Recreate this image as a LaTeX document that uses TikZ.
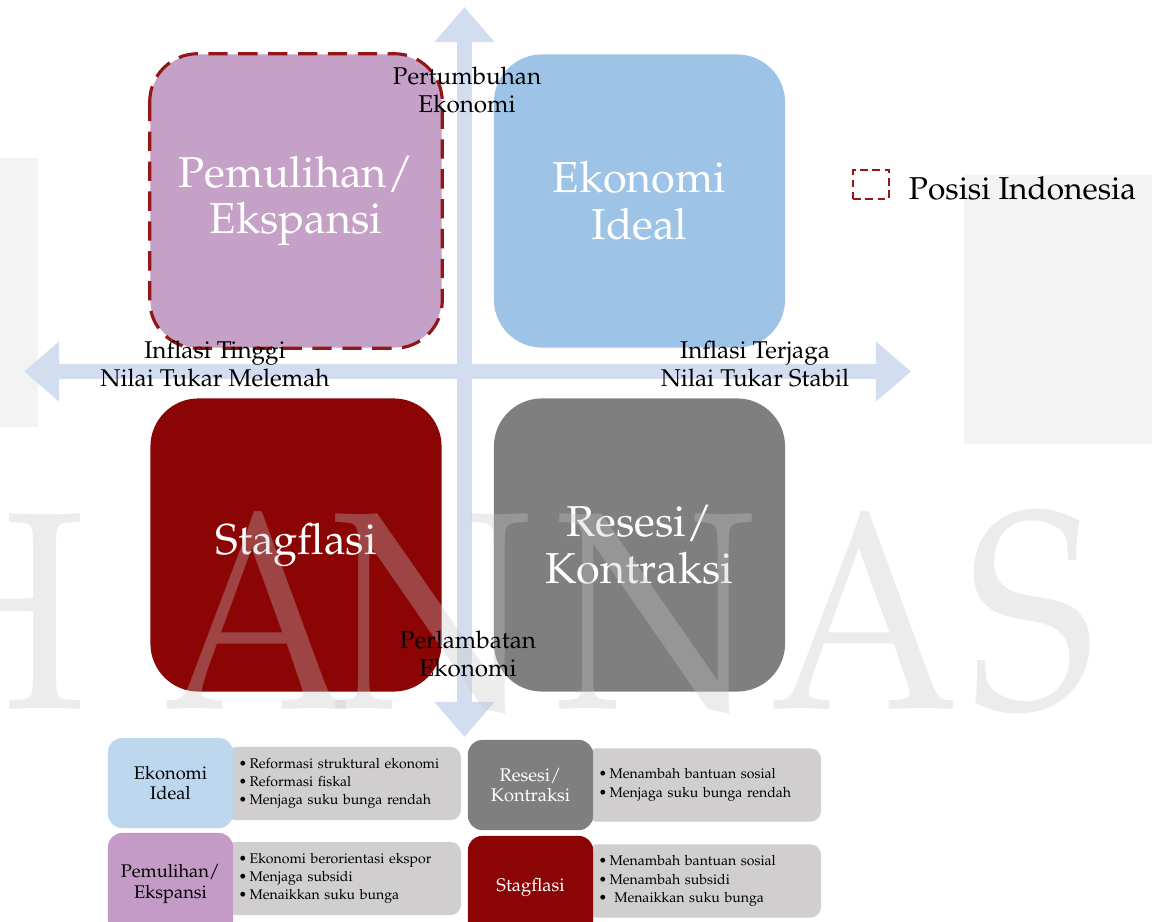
\documentclass[tikz,border=0pt]{standalone}
\usepackage[T1]{fontenc}
\usepackage{mathpazo}
\usetikzlibrary{arrows.meta,positioning}

\definecolor{axisblue}{RGB}{210,222,239}
\definecolor{pemcolor}{RGB}{197,160,199}
\definecolor{idealcolor}{RGB}{157,195,230}
\definecolor{stagcolor}{RGB}{139,5,5}
\definecolor{resesicolor}{RGB}{127,127,127}
\definecolor{dashred}{RGB}{150,22,22}
\definecolor{lightideal}{RGB}{189,215,238}
\definecolor{lightpem}{RGB}{195,155,198}
\definecolor{panelgray}{RGB}{208,206,206}
\definecolor{bggray}{RGB}{243,243,243}
\definecolor{wmgray}{RGB}{198,198,198}

\tikzset{
  axis/.style={draw=axisblue, line width=4.2pt,
    {Triangle[width=16.5pt,length=10pt]}-{Triangle[width=16.5pt,length=10pt]}},
  bigbox/.style={rounded corners=4.8mm, minimum width=2.91cm, minimum height=2.93cm,
    text=white, align=center, inner sep=0pt, font=\fontsize{12.3}{13.3}\selectfont},
  axislabel/.style={align=center, inner sep=0pt, font=\fontsize{6.9}{8.2}\selectfont},
  smallbox/.style={rounded corners=1.4mm, minimum width=1.25cm, align=center,
    inner sep=0pt, font=\fontsize{5.2}{5.8}\selectfont},
  panel/.style={fill=panelgray, rounded corners=1mm, anchor=west, text width=2.09cm,
    minimum height=0.73cm, inner xsep=1.3mm, inner ysep=0pt, align=left,
    font=\fontsize{4.0}{5.2}\selectfont},
  wmletter/.style={text=wmgray, text opacity=0.33, anchor=base, inner sep=0pt,
    font=\fontsize{80}{80}\selectfont},
  legendbox/.style={draw=dashred, line width=0.7pt, dash pattern=on 2.2pt off 1.3pt,
    minimum width=0.36cm, minimum height=0.29cm, inner sep=0pt}
}
\newcommand{\wm}[1]{\scalebox{0.86}[1]{#1}}

\begin{document}
\begin{tikzpicture}[x=0.01cm, y=-0.01cm]
    \useasboundingbox (0,0) rectangle (1152,921);
    \clip (0,0) rectangle (1152,921);

    % background
    \fill[bggray] (0,158) rectangle (38,427);
    \fill[bggray] (964,175) rectangle (1152,444);

    % axes
    \coordinate (axtop) at (464.5,7);
    \coordinate (axbottom) at (464.5,737);
    \coordinate (axleft) at (24,371.5);
    \coordinate (axright) at (911,371.5);
    \draw[axis] (axbottom) -- (axtop);
    \draw[axis] (axleft) -- (axright);

    % quadrants
    \node[bigbox, fill=pemcolor] (pemulihan) at (296,201) {Pemulihan/\\Ekspansi};
    \node[bigbox, fill=idealcolor] (ideal) at (639.5,201) {Ekonomi\\Ideal};
    \node[bigbox, fill=stagcolor] (stagflasi) at (296,545) {Stagflasi};
    \node[bigbox, fill=resesicolor] (resesi) at (639.5,545) {Resesi/\\Kontraksi};
    \draw[dashred, line width=0.9pt, dash pattern=on 5.5pt off 3pt, rounded corners=4.8mm]
        (pemulihan.north west) rectangle (pemulihan.south east);

    % policy table
    \node[panel] (ideallist) at (225,783.5) {\textbullet\,Reformasi struktural ekonomi\\
        \textbullet\,Reformasi fiskal\\\textbullet\,Menjaga suku bunga rendah};
    \node[panel] (pemlist) at (225,878.5) {\textbullet\,Ekonomi berorientasi ekspor\\
        \textbullet\,Menjaga subsidi\\\textbullet\,Menaikkan suku bunga};
    \node[panel] (resesilist) at (585,785) {\textbullet\,Menambah bantuan sosial\\
        \textbullet\,Menjaga suku bunga rendah};
    \node[panel] (staglist) at (585,881) {\textbullet\,Menambah bantuan sosial\\
        \textbullet\,Menambah subsidi\\\textbullet\ \,Menaikkan suku bunga};
    \node[smallbox, fill=lightideal, minimum height=0.9cm] (idealsmall) at (170.5,783) {Ekonomi\\Ideal};
    \node[smallbox, fill=lightpem, minimum height=1.02cm] (pemsmall) at (170.5,884) {Pemulihan/\\Ekspansi};
    \node[smallbox, fill=resesicolor, text=white, minimum height=0.9cm] (resesismall) at (530.5,785) {Resesi/\\Kontraksi};
    \node[smallbox, fill=stagcolor, text=white, minimum height=1.02cm] (stagsmall) at (530.5,887) {Stagflasi};

    % watermark
    \node[wmletter] (wmh) at (-15,708) {\wm{H}};
    \node[wmletter] (wma) at (258,708) {\wm{A}};
    \node[wmletter] (wmn) at (432,708) {\wm{N}};
    \node[wmletter] (wmnn) at (656,708) {\wm{N}};
    \node[wmletter] (wmaa) at (865,708) {\wm{A}};
    \node[wmletter] (wms) at (1032,708) {\wm{S}};

    % axis labels
    \node[axislabel] (growth) at (467,90) {Pertumbuhan\\Ekonomi};
    \node[axislabel] (slowdown) at (468,654) {Perlambatan\\Ekonomi};
    \node[axislabel] (highinf) at (215,364) {Inflasi Tinggi\\Nilai Tukar Melemah};
    \node[axislabel] (lowinf) at (755,364) {Inflasi Terjaga\\Nilai Tukar Stabil};

    % legend
    \node[legendbox] (legend) at (871,184.5) {};
    \node[right=0.18cm of legend, yshift=-0.035cm, inner sep=0pt,
        font=\fontsize{9}{10}\selectfont] (legendtext) {Posisi Indonesia};
\end{tikzpicture}
\end{document}
